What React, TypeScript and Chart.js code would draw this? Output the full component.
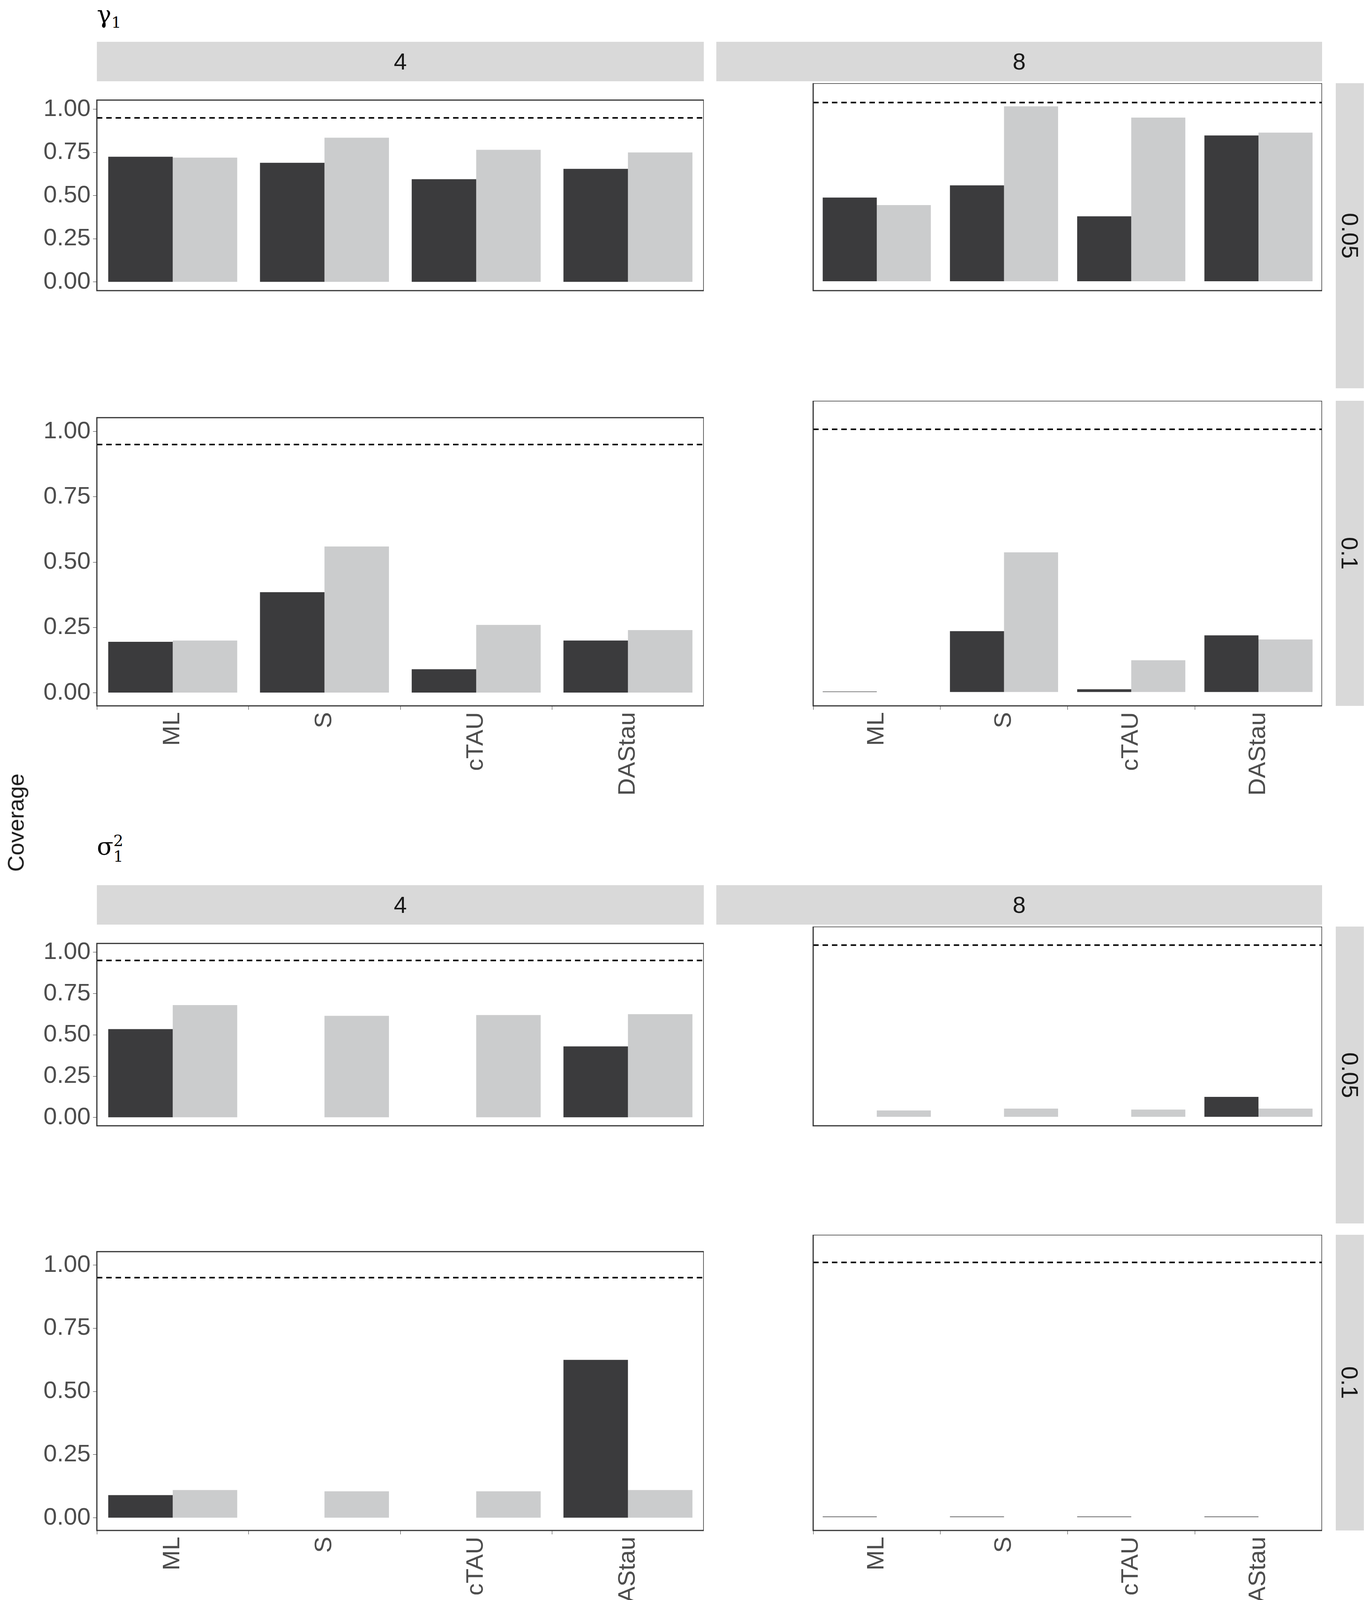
import React, { useEffect, useRef } from "react";
import { Chart, registerables } from "chart.js";
Chart.register(...registerables);

const categories = ["ML", "S", "cTAU", "DAStau"];
const yTicks = [0, 0.25, 0.5, 0.75, 1.0];
const target = 0.95;
const colLabels = ["4", "8"];
const rowLabels = ["0.05", "0.1"];

// gamma1
const g_4_005_dark = [0.725, 0.69, 0.595, 0.655];
const g_4_005_light = [0.72, 0.835, 0.765, 0.75];
const g_8_005_dark = [0.445, 0.51, 0.345, 0.775];
const g_8_005_light = [0.405, 0.93, 0.87, 0.79];
const g_4_01_dark = [0.195, 0.385, 0.09, 0.2];
const g_4_01_light = [0.2, 0.56, 0.26, 0.24];
const g_8_01_dark = [0.002, 0.22, 0.01, 0.205];
const g_8_01_light = [0, 0.505, 0.115, 0.19];
// sigma1^2
const s_4_005_dark = [0.535, 0, 0, 0.43];
const s_4_005_light = [0.68, 0.615, 0.62, 0.625];
const s_8_005_dark = [0, 0, 0, 0.11];
const s_8_005_light = [0.035, 0.045, 0.04, 0.045];
const s_4_01_dark = [0.09, 0, 0, 0.625];
const s_4_01_light = [0.11, 0.105, 0.105, 0.11];
const s_8_01_dark = [0.002, 0.002, 0.002, 0.002];
const s_8_01_light = [0, 0, 0, 0];

const DARK = "#3b3b3d";
const LIGHT = "#cbcccd";
const FONT = "Liberation Sans, Arial, sans-serif";
const TICK_SIZE = 62;

const LEFT_X = 248, LEFT_R = 1802, RIGHT_X = 1834, RIGHT_R = 3385;
const AXIS_H = 250;

const framePlugin = {
  id: "frame",
  afterDatasetsDraw(chart: any) {
    const { ctx, chartArea } = chart;
    const y = chart.scales.y.getPixelForValue(target);
    ctx.save();
    ctx.strokeStyle = "#000";
    ctx.lineWidth = 4;
    ctx.setLineDash([14, 10]);
    ctx.beginPath();
    ctx.moveTo(chartArea.left, y);
    ctx.lineTo(chartArea.right, y);
    ctx.stroke();
    ctx.setLineDash([]);
    ctx.strokeStyle = "#333";
    ctx.lineWidth = 3;
    ctx.strokeRect(chartArea.left, chartArea.top, chartArea.right - chartArea.left, chartArea.bottom - chartArea.top);
    ctx.restore();
  },
};

function Panel(p: { dark: number[]; light: number[]; left: boolean; top: number; h: number; showX: boolean }) {
  const ref = useRef<HTMLCanvasElement>(null);
  const x0 = p.left ? 0 : RIGHT_X;
  const w = p.left ? LEFT_R : RIGHT_R - RIGHT_X;
  const H = p.h + (p.showX ? AXIS_H : 0);
  useEffect(() => {
    const c = new Chart(ref.current!, {
      type: "bar",
      data: {
        labels: categories,
        datasets: [
          { data: p.dark, backgroundColor: DARK },
          { data: p.light, backgroundColor: LIGHT },
        ],
      },
      options: {
        animation: false,
        responsive: false,
        maintainAspectRatio: false,
        devicePixelRatio: 1,
        layout: { padding: 0 },
        plugins: { legend: { display: false }, tooltip: { enabled: false } },
        datasets: { bar: { categoryPercentage: 0.85, barPercentage: 1 } },
        scales: {
          x: {
            display: p.showX,
            grid: { drawOnChartArea: false, color: "#333", tickLength: 10 },
            border: { display: false },
            ticks: { color: "#4d4d4d", font: { family: FONT, size: TICK_SIZE }, minRotation: 90, maxRotation: 90, padding: 6 },
            afterFit: (s: any) => { s.height = AXIS_H; },
          },
          y: {
            display: p.left,
            min: -0.05,
            max: 1.053,
            grid: { drawOnChartArea: false, color: "#333", tickLength: 10 },
            border: { display: false },
            afterBuildTicks: (s: any) => { s.ticks = yTicks.map((v) => ({ value: v })); },
            ticks: { color: "#4d4d4d", font: { family: FONT, size: TICK_SIZE }, callback: (v: any) => Number(v).toFixed(2), padding: 6 },
            afterFit: (s: any) => { s.width = LEFT_X; },
          },
        },
      },
      plugins: [framePlugin],
    });
    return () => c.destroy();
  }, []);
  return (
    <canvas ref={ref} width={w} height={H} style={{ position: "absolute", left: x0, top: p.top, width: w, height: H }} />
  );
}

const stripStyle: React.CSSProperties = {
  position: "absolute", background: "#d9d9d9", color: "#1a1a1a", fontFamily: FONT, fontSize: 60,
  display: "flex", alignItems: "center", justifyContent: "center",
};

function Section(p: { title: React.ReactNode; titleTop: number; stripTop: number; stripBot: number; p1: [number, number]; p2: [number, number]; data: number[][][] }) {
  const out: React.ReactNode[] = [];
  out.push(<div key="t" style={{ position: "absolute", left: 248, top: p.titleTop, fontFamily: "DejaVu Serif, serif", fontSize: 62, color: "#000" }}>{p.title}</div>);
  [LEFT_X, RIGHT_X].forEach((x, i) => {
    const r = i === 0 ? LEFT_R : RIGHT_R;
    out.push(<div key={"s" + i} style={{ ...stripStyle, left: x, top: p.stripTop, width: r - x, height: p.stripBot - p.stripTop }}>{colLabels[i]}</div>);
  });
  [p.p1, p.p2].forEach((pp, ri) => {
    out.push(
      <div key={"r" + ri} style={{ ...stripStyle, left: 3420, top: pp[0], width: 72, height: pp[1] - pp[0] }}>
        <span style={{ transform: "rotate(90deg)", whiteSpace: "nowrap" }}>{rowLabels[ri]}</span>
      </div>
    );
    [true, false].forEach((left, ci) => {
      const d = p.data[ri * 2 + ci];
      out.push(<Panel key={"p" + ri + ci} dark={d[0]} light={d[1]} left={left} top={pp[0]} h={pp[1] - pp[0]} showX={ri === 1} />);
    });
  });
  return <>{out}</>;
}

export default function App() {
  return (
    <div style={{ position: "absolute", left: 0, top: 0, width: 3500, height: 4180, background: "#fff" }}>
      <Section
        title={<span>γ<sub style={{ fontSize: 40 }}>1</sub></span>}
        titleTop={0}
        stripTop={107}
        stripBot={208}
        p1={[213, 994]}
        p2={[1026, 1807]}
        data={[
          [g_4_005_dark, g_4_005_light], [g_8_005_dark, g_8_005_light],
          [g_4_01_dark, g_4_01_light], [g_8_01_dark, g_8_01_light],
        ]}
      />
      <Section
        title={<span>σ<span style={{ display: "inline-flex", flexDirection: "column", fontSize: 40, verticalAlign: "middle", lineHeight: 1 }}><span>2</span><span>1</span></span></span>}
        titleTop={2130}
        stripTop={2266}
        stripBot={2367}
        p1={[2372, 3132]}
        p2={[3161, 3918]}
        data={[
          [s_4_005_dark, s_4_005_light], [s_8_005_dark, s_8_005_light],
          [s_4_01_dark, s_4_01_light], [s_8_01_dark, s_8_01_light],
        ]}
      />
      <div style={{ position: "absolute", left: 40, top: 2106, transform: "translate(-50%,-50%) rotate(-90deg)", fontFamily: FONT, fontSize: 58, color: "#1a1a1a", whiteSpace: "nowrap" }}>Coverage</div>
    </div>
  );
}
